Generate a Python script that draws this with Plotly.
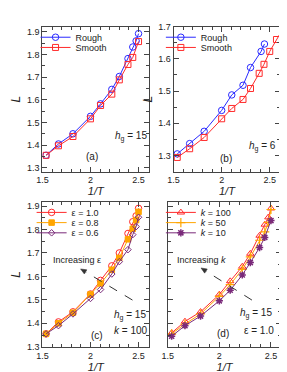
import plotly.graph_objects as go

# ---------------- data ----------------
x_full = [1.538, 1.667, 1.818, 2.0, 2.105, 2.222, 2.30, 2.39, 2.44, 2.475, 2.5]

# panel (a)  h_g = 15
rough_a_x = x_full
rough_a = [1.355, 1.405, 1.450, 1.527, 1.582, 1.646, 1.703, 1.782, 1.833, 1.860, 1.892]
smooth_a_x = [1.538, 1.667, 1.818, 2.0, 2.105, 2.222, 2.30, 2.39, 2.44, 2.5]
smooth_a = [1.355, 1.397, 1.438, 1.516, 1.575, 1.625, 1.688, 1.756, 1.787, 1.857]

# panel (b)  h_g = 6
rough_b_x = [1.538, 1.667, 1.818, 2.0, 2.105, 2.222, 2.30, 2.41, 2.445]
rough_b = [1.305, 1.337, 1.375, 1.440, 1.488, 1.518, 1.573, 1.623, 1.646]
smooth_b_x = [1.538, 1.667, 1.818, 2.0, 2.105, 2.222, 2.30, 2.39, 2.44, 2.5, 2.57, 2.65]
smooth_b = [1.294, 1.321, 1.356, 1.414, 1.446, 1.474, 1.508, 1.555, 1.583, 1.623, 1.660, 1.700]

# panel (c)  h_g = 15, k = 100
eps_x = x_full
eps10 = [1.355, 1.406, 1.449, 1.525, 1.583, 1.645, 1.700, 1.783, 1.833, 1.858, 1.890]
eps08 = [1.355, 1.400, 1.445, 1.523, 1.570, 1.628, 1.679, 1.758, 1.803, 1.840, 1.875]
eps06 = [1.355, 1.390, 1.440, 1.506, 1.544, 1.610, 1.663, 1.714, 1.778, 1.812, 1.852]

# panel (d)  h_g = 15, eps = 1.0
k_x = x_full
k100 = [1.359, 1.408, 1.449, 1.523, 1.580, 1.642, 1.697, 1.774, 1.821, 1.852, 1.890]
k50 = [1.355, 1.397, 1.440, 1.515, 1.565, 1.630, 1.683, 1.754, 1.790, 1.830, 1.885]
k10_x = [1.538, 1.667, 1.818, 2.0, 2.105, 2.222, 2.30, 2.39, 2.44, 2.5]
k10 = [1.345, 1.390, 1.431, 1.496, 1.541, 1.606, 1.659, 1.723, 1.766, 1.838]

x_ticks = [1.5, 2.0, 2.5]

BLUE = "#2a2aff"
RED = "#ff2a2a"
ORANGE = "#ffa500"
PURPLE = "#7a2a7a"
FONT = "Liberation Sans"
W, H = 287, 372

fig = go.Figure()

# each legend entry gets its own legend box so rows can sit as close as in the reference
legend_layout = {}
legend_count = [0]


def new_legend(text_x, row_y):
    legend_count[0] += 1
    lid = "legend" if legend_count[0] == 1 else "legend%d" % legend_count[0]
    legend_layout[lid] = dict(
        bgcolor="rgba(0,0,0,0)", borderwidth=0, visible=True,
        font=dict(family=FONT, size=9, color="#222"),
        xanchor="left", yanchor="top", itemwidth=30,
        x=(text_x - 45) / W, y=1 - (row_y - 22) / H)
    return lid


def add(x, y, name, color, symbol, size, xa, ya, text_x, row_y, mlw=1.0):
    lid = new_legend(text_x, row_y)
    fig.add_trace(go.Scatter(
        x=x, y=y, name=name, mode="lines+markers", showlegend=True,
        line=dict(color=color, width=1),
        marker=dict(symbol=symbol, size=size, color=color,
                    line=dict(color=color, width=mlw)),
        xaxis=xa, yaxis=ya, legend=lid))


add(rough_a_x, rough_a, "Rough", BLUE, "circle-open", 6.5, "x", "y", 67, 32)
add(smooth_a_x, smooth_a, "Smooth", RED, "square-open", 6, "x", "y", 67, 42.5)
add(rough_b_x, rough_b, "Rough", BLUE, "circle-open", 6.5, "x2", "y2", 195, 32)
add(smooth_b_x, smooth_b, "Smooth", RED, "square-open", 6, "x2", "y2", 195, 42.5)
add(eps_x, eps10, "ε = 1.0", RED, "circle-open", 6.5, "x3", "y3", 63, 212)
add(eps_x, eps08, "ε = 0.8", ORANGE, "square", 5.5, "x3", "y3", 63, 222.5)
add(eps_x, eps06, "ε = 0.6", PURPLE, "diamond-open", 5, "x3", "y3", 63, 233)
add(k_x, k100, "<i>k</i> = 100", RED, "triangle-up-open", 6.5, "x4", "y4", 195, 212)
add(k_x, k50, "<i>k</i> = 50", ORANGE, "cross-thin-open", 6.5, "x4", "y4", 195, 222.5, mlw=1.2)
add(k10_x, k10, "<i>k</i> = 10", PURPLE, "asterisk-open", 6, "x4", "y4", 195, 233, mlw=1.5)

axis_common = dict(
    ticks="inside", ticklen=5, tickwidth=1, tickcolor="#444",
    showline=True, linecolor="#444", linewidth=1, mirror="ticks",
    showgrid=False, zeroline=False,
    tickfont=dict(family=FONT, size=9, color="#222"),
)


def xax(domain, rng, anchor):
    return dict(axis_common, domain=domain, range=rng, anchor=anchor,
                tickmode="array", tickvals=x_ticks, ticktext=["1.5", "2", "2.5"],
                minor=dict(ticks="inside", ticklen=3, tickcolor="#444", dtick=0.1,
                           tick0=1.5, showgrid=False),
                title=dict(text="<i>1/T</i>", font=dict(family=FONT, size=11, color="#222"),
                           standoff=1))


def yax(domain, rng, anchor, labels=True, title=True):
    d = dict(axis_common, domain=domain, range=rng, anchor=anchor,
             dtick=0.1, tick0=1.3, tickformat=".1f", showticklabels=labels,
             minor=dict(ticks="inside", ticklen=3, tickcolor="#444", dtick=0.05,
                        showgrid=False))
    if title:
        d["title"] = dict(text="<i>L</i>", font=dict(family=FONT, size=12, color="#222"),
                          standoff=3)
    return d


top = [1 - 163 / H, 1 - 14 / H]
bot = [1 - 343 / H, 1 - 194 / H]

fig.update_layout(
    width=W, height=H,
    margin=dict(l=0, r=0, t=0, b=0),
    showlegend=True,
    paper_bgcolor="white", plot_bgcolor="white",
    font=dict(family=FONT, color="#222"),
    xaxis=xax([29 / W, 138 / W], [1.5, 2.61], "y"),
    yaxis=yax(top, [1.283, 1.923], "x"),
    xaxis2=xax([163 / W, 272 / W], [1.5, 2.61], "y2"),
    yaxis2=yax(top, [1.25, 1.70], "x2"),
    xaxis3=xax([29 / W, 138 / W], [1.5, 2.61], "y3"),
    yaxis3=yax(bot, [1.3, 1.918], "x3"),
    xaxis4=xax([157 / W, 273 / W], [1.5, 2.6], "y4"),
    yaxis4=yax(bot, [1.3, 1.918], "x4", labels=False, title=False),
    **legend_layout,
)


def txt(x, y, s, size=10):
    fig.add_annotation(x=x / W, y=1 - y / H, xref="paper", yref="paper",
                       text=s, showarrow=False, xanchor="center", yanchor="middle",
                       font=dict(family=FONT, size=size, color="#222"))


txt(119, 127, "<i>h</i><sub>g</sub> = 15")
txt(80, 147, "(a)")
txt(254, 137, "<i>h</i><sub>g</sub> = 6")
txt(217, 150, "(b)")
txt(64, 254, "Increasing ε", 9)
txt(118, 311, "<i>h</i><sub>g</sub> = 15")
txt(119, 326, "<i>k</i> = 100")
txt(85, 331, "(c)")
txt(192, 254, "Increasing <i>k</i>", 9)
txt(247, 309, "<i>h</i><sub>g</sub> = 15")
txt(250, 326, "ε = 1.0")
txt(213, 329, "(d)")


def arrow(x0, y0, x1, y1):
    """dashed line from (x0,y0) to (x1,y1) in pixels with a filled head at (x1,y1)"""
    dx, dy = x0 - x1, y0 - y1
    n = (dx * dx + dy * dy) ** 0.5
    ux, uy = dx / n, dy / n
    hl, hw = 6.0, 2.5
    bx, by = x1 + ux * hl, y1 + uy * hl
    fig.add_shape(type="line", xref="paper", yref="paper",
                  x0=x0 / W, y0=1 - y0 / H, x1=bx / W, y1=1 - by / H,
                  line=dict(color="#333", width=1, dash="dash"))
    pts = [(x1, y1), (bx - uy * hw, by + ux * hw), (bx + uy * hw, by - ux * hw)]
    path = "M " + " L ".join("%f,%f" % (px / W, 1 - py / H) for px, py in pts) + " Z"
    fig.add_shape(type="path", xref="paper", yref="paper", path=path,
                  fillcolor="#333", line=dict(color="#333", width=0.5))


arrow(121, 295, 68, 263)
arrow(243, 295, 191, 262)

fig.write_html("out.html")
